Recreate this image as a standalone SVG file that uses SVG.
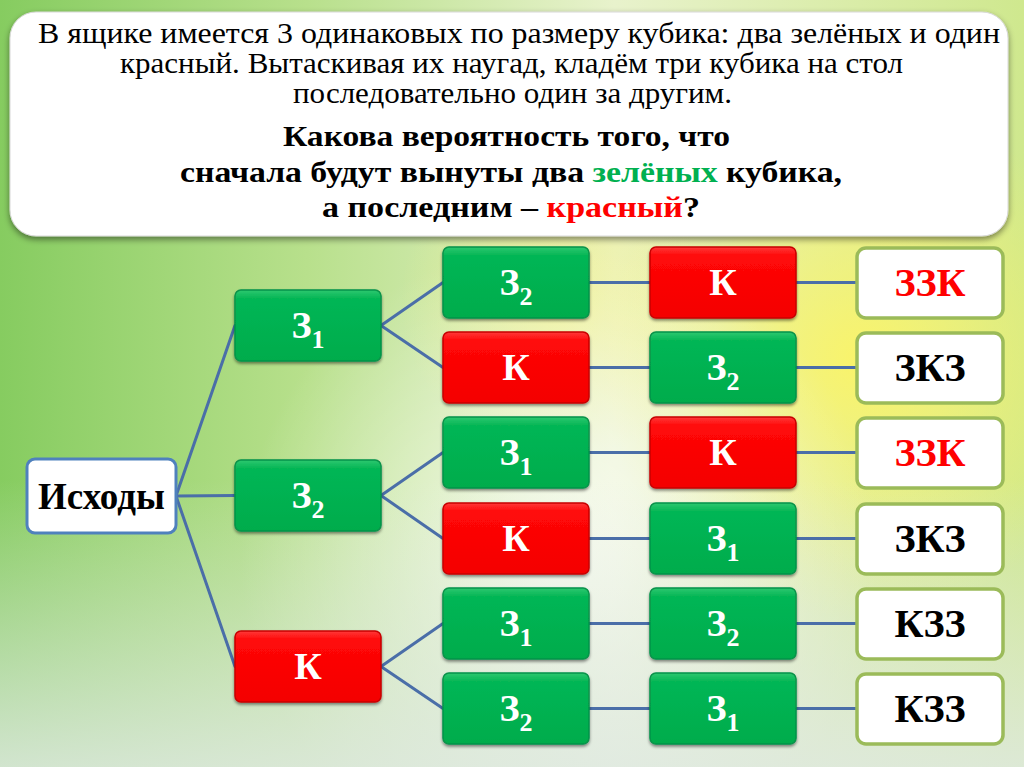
<svg xmlns="http://www.w3.org/2000/svg" width="1024" height="767" viewBox="0 0 1024 767">
<defs>
  <linearGradient id="bgBase" x1="0" y1="0" x2="1" y2="0">
    <stop offset="0" stop-color="#86cc60"/>
    <stop offset="0.3" stop-color="#b8e08c"/>
    <stop offset="0.6" stop-color="#e8f2cc"/>
    <stop offset="1" stop-color="#cfe88e"/>
  </linearGradient>
  <radialGradient id="bgYellow" cx="860" cy="360" r="260" gradientUnits="userSpaceOnUse">
    <stop offset="0" stop-color="#fff560" stop-opacity="0.85"/>
    <stop offset="1" stop-color="#fff560" stop-opacity="0"/>
  </radialGradient>
  <radialGradient id="bgYellow2" cx="560" cy="300" r="160" gradientUnits="userSpaceOnUse">
    <stop offset="0" stop-color="#f8f27a" stop-opacity="0.6"/>
    <stop offset="1" stop-color="#f8f27a" stop-opacity="0"/>
  </radialGradient>
  <radialGradient id="bgWhite" cx="560" cy="560" r="320" gradientUnits="userSpaceOnUse">
    <stop offset="0" stop-color="#ffffff" stop-opacity="0.75"/>
    <stop offset="1" stop-color="#ffffff" stop-opacity="0"/>
  </radialGradient>
  <linearGradient id="bgBottom" x1="0" y1="0" x2="0" y2="1">
    <stop offset="0" stop-color="#dfe9e2" stop-opacity="0"/>
    <stop offset="1" stop-color="#dfe9e2" stop-opacity="0.85"/>
  </linearGradient>
  <linearGradient id="gGreen" x1="0" y1="0" x2="0" y2="1">
    <stop offset="0" stop-color="#2cc870"/>
    <stop offset="0.12" stop-color="#06b655"/>
    <stop offset="1" stop-color="#00ac4c"/>
  </linearGradient>
  <linearGradient id="gRed" x1="0" y1="0" x2="0" y2="1">
    <stop offset="0" stop-color="#ff3a3a"/>
    <stop offset="0.12" stop-color="#ff0808"/>
    <stop offset="1" stop-color="#f40000"/>
  </linearGradient>
  <filter id="shadow" x="-10%" y="-10%" width="130%" height="140%">
    <feDropShadow dx="0" dy="2" stdDeviation="1.8" flood-color="#000" flood-opacity="0.45"/>
  </filter>
  <filter id="bigShadow" x="-5%" y="-5%" width="110%" height="115%">
    <feDropShadow dx="0" dy="3" stdDeviation="3" flood-color="#000" flood-opacity="0.45"/>
  </filter>
  <rect id="gbox" width="146" height="71" rx="6" fill="url(#gGreen)" stroke="#08924a" stroke-width="1.5" filter="url(#shadow)"/>
  <rect id="rbox" width="146" height="71" rx="6" fill="url(#gRed)" stroke="#c80000" stroke-width="1.5" filter="url(#shadow)"/>
  <rect id="wbox" width="146" height="70" rx="9" fill="#ffffff" stroke="#9bbb59" stroke-width="3.5"/>
</defs>

<!-- background -->
<rect x="0" y="0" width="1024" height="767" fill="url(#bgBase)"/>
<rect x="0" y="0" width="1024" height="767" fill="url(#bgYellow2)"/>
<rect x="0" y="0" width="1024" height="767" fill="url(#bgYellow)"/>
<rect x="0" y="0" width="1024" height="767" fill="url(#bgWhite)"/>
<rect x="0" y="480" width="1024" height="287" fill="url(#bgBottom)"/>

<!-- header -->
<g id="header">
  <rect x="10" y="12" width="998" height="224" rx="26" fill="#ffffff" stroke="#d8d8d8" stroke-width="1" filter="url(#bigShadow)"/>
  <g font-family="Liberation Serif" font-size="30" fill="#000000">
    <text x="38" y="43" textLength="962" lengthAdjust="spacingAndGlyphs">В ящике имеется 3 одинаковых по размеру кубика:  два зелёных и один</text>
    <text x="120" y="73" textLength="783" lengthAdjust="spacingAndGlyphs">красный. Вытаскивая их наугад, кладём три кубика на стол</text>
    <text x="293" y="103" textLength="439" lengthAdjust="spacingAndGlyphs">последовательно один за другим.</text>
  </g>
  <g font-family="Liberation Serif" font-size="30" font-weight="bold" fill="#000000">
    <text x="283" y="146" textLength="447" lengthAdjust="spacingAndGlyphs">Какова вероятность того, что</text>
    <text x="180" y="182" textLength="662" lengthAdjust="spacingAndGlyphs">сначала будут вынуты два <tspan fill="#00b050">зелёных</tspan> кубика,</text>
    <text x="322" y="217" textLength="378" lengthAdjust="spacingAndGlyphs">а последним – <tspan fill="#ff0000">красный</tspan>?</text>
  </g>
</g>

<!-- connectors -->
<g id="connectors" stroke="#4a6ea8" stroke-width="3" stroke-linecap="round">
  <line x1="176" y1="496" x2="235" y2="325.5"/>
  <line x1="176" y1="496" x2="235" y2="495.5"/>
  <line x1="176" y1="496" x2="235" y2="666.5"/>
  <line x1="381" y1="325.5" x2="443" y2="282.5"/>
  <line x1="381" y1="325.5" x2="443" y2="367.5"/>
  <line x1="381" y1="495.5" x2="443" y2="452.5"/>
  <line x1="381" y1="495.5" x2="443" y2="538.5"/>
  <line x1="381" y1="666.5" x2="443" y2="623.5"/>
  <line x1="381" y1="666.5" x2="443" y2="708.5"/>
  <line x1="589" y1="282.5" x2="650" y2="282.5"/>
  <line x1="589" y1="367.5" x2="650" y2="367.5"/>
  <line x1="589" y1="452.5" x2="650" y2="452.5"/>
  <line x1="589" y1="538.5" x2="650" y2="538.5"/>
  <line x1="589" y1="623.5" x2="650" y2="623.5"/>
  <line x1="589" y1="708.5" x2="650" y2="708.5"/>
  <line x1="796" y1="282.5" x2="857" y2="282.5"/>
  <line x1="796" y1="367.5" x2="857" y2="367.5"/>
  <line x1="796" y1="452.5" x2="857" y2="452.5"/>
  <line x1="796" y1="538.5" x2="857" y2="538.5"/>
  <line x1="796" y1="623.5" x2="857" y2="623.5"/>
  <line x1="796" y1="708.5" x2="857" y2="708.5"/>
</g>

<!-- root -->
<g id="root">
  <rect x="27" y="459" width="149" height="74" rx="8" fill="#ffffff" stroke="#4f81bd" stroke-width="3"/>
  <text x="101.5" y="509" font-family="Liberation Serif" font-weight="bold" font-size="37" text-anchor="middle" fill="#000000">Исходы</text>
</g>

<g id="tree-nodes" font-family="Liberation Serif" font-weight="bold" font-size="38" text-anchor="middle" fill="#ffffff">
<!-- level 1 -->
<g id="l1-z1"><use href="#gbox" x="235" y="290"/><text x="308" y="338">З<tspan font-size="26" dy="10">1</tspan></text></g>
<g id="l1-z2"><use href="#gbox" x="235" y="460"/><text x="308" y="508">З<tspan font-size="26" dy="10">2</tspan></text></g>
<g id="l1-k"><use href="#rbox" x="235" y="631"/><text x="308" y="679">К</text></g>

<!-- level 2 -->
<g id="l2-1"><use href="#gbox" x="443" y="247"/><text x="516" y="295">З<tspan font-size="26" dy="10">2</tspan></text></g>
<g id="l2-2"><use href="#rbox" x="443" y="332"/><text x="516" y="380">К</text></g>
<g id="l2-3"><use href="#gbox" x="443" y="417"/><text x="516" y="465">З<tspan font-size="26" dy="10">1</tspan></text></g>
<g id="l2-4"><use href="#rbox" x="443" y="503"/><text x="516" y="551">К</text></g>
<g id="l2-5"><use href="#gbox" x="443" y="588"/><text x="516" y="636">З<tspan font-size="26" dy="10">1</tspan></text></g>
<g id="l2-6"><use href="#gbox" x="443" y="673"/><text x="516" y="721">З<tspan font-size="26" dy="10">2</tspan></text></g>

<!-- level 3 -->
<g id="l3-1"><use href="#rbox" x="650" y="247"/><text x="723" y="295">К</text></g>
<g id="l3-2"><use href="#gbox" x="650" y="332"/><text x="723" y="380">З<tspan font-size="26" dy="10">2</tspan></text></g>
<g id="l3-3"><use href="#rbox" x="650" y="417"/><text x="723" y="465">К</text></g>
<g id="l3-4"><use href="#gbox" x="650" y="503"/><text x="723" y="551">З<tspan font-size="26" dy="10">1</tspan></text></g>
<g id="l3-5"><use href="#gbox" x="650" y="588"/><text x="723" y="636">З<tspan font-size="26" dy="10">2</tspan></text></g>
<g id="l3-6"><use href="#gbox" x="650" y="673"/><text x="723" y="721">З<tspan font-size="26" dy="10">1</tspan></text></g>
</g>

<!-- results -->
<g id="results" font-family="Liberation Serif" font-weight="bold" font-size="40" text-anchor="middle">
<g id="res-1"><use href="#wbox" x="857" y="248"/><text x="930" y="296" fill="#ff0000">ЗЗК</text></g>
<g id="res-2"><use href="#wbox" x="857" y="333"/><text x="930" y="381" fill="#000000">ЗКЗ</text></g>
<g id="res-3"><use href="#wbox" x="857" y="418"/><text x="930" y="466" fill="#ff0000">ЗЗК</text></g>
<g id="res-4"><use href="#wbox" x="857" y="504"/><text x="930" y="552" fill="#000000">ЗКЗ</text></g>
<g id="res-5"><use href="#wbox" x="857" y="589"/><text x="930" y="637" fill="#000000">КЗЗ</text></g>
<g id="res-6"><use href="#wbox" x="857" y="674"/><text x="930" y="722" fill="#000000">КЗЗ</text></g>
</g>
</svg>
